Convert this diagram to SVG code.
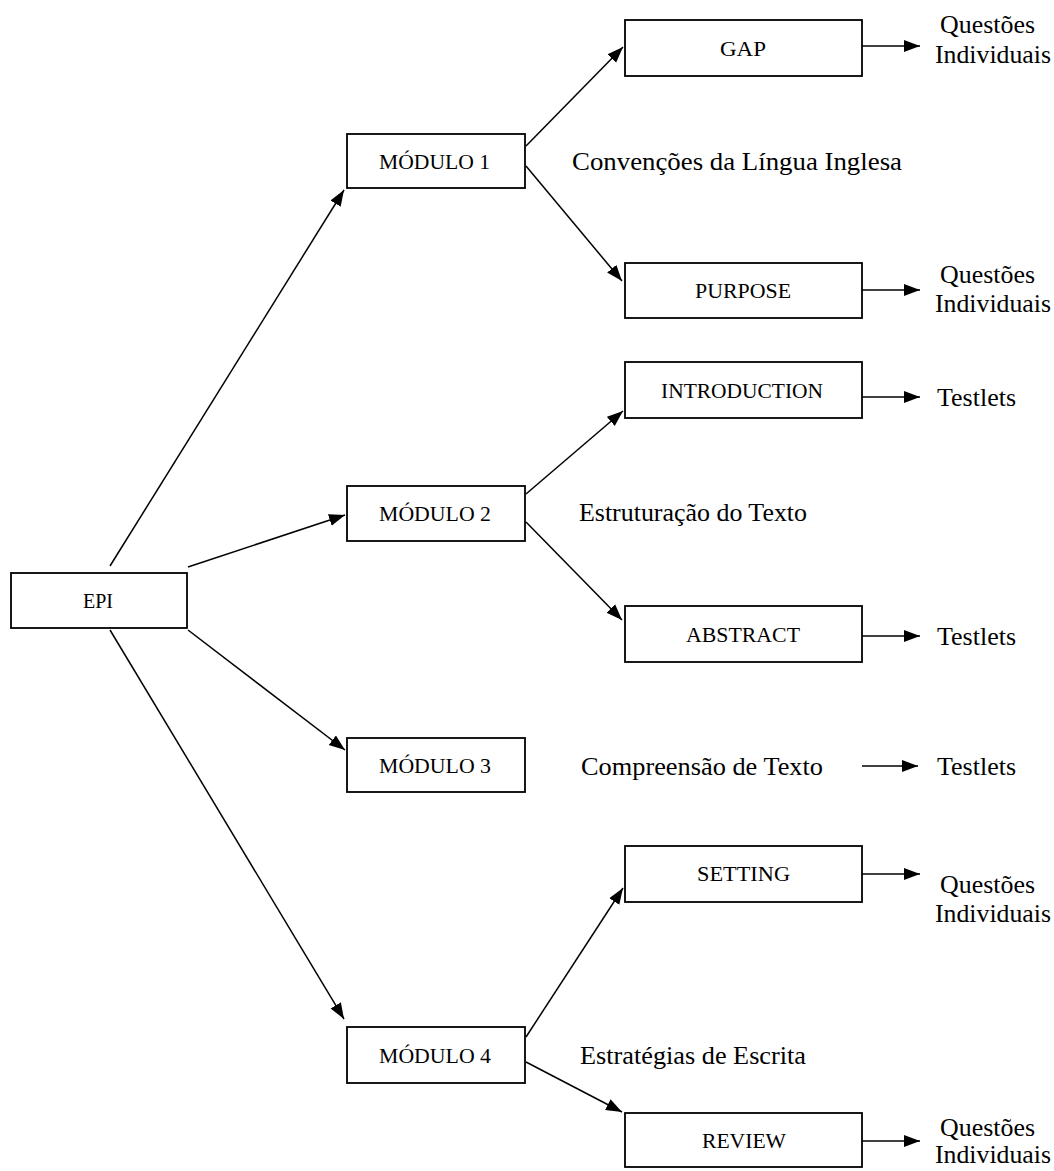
<svg xmlns="http://www.w3.org/2000/svg" width="1054" height="1171" viewBox="0 0 1054 1171">
<defs>
<marker id="ah" markerUnits="userSpaceOnUse" markerWidth="18" markerHeight="14" refX="16" refY="7" orient="auto">
<path d="M0,1 L16,7 L0,13 z" fill="#000"/>
</marker>
</defs>
<style>
.box{fill:#fff;stroke:#000;stroke-width:1.8}
.lbl{font-family:"Liberation Serif","Times New Roman",serif;font-size:22px;fill:#000}
.txt{font-family:"Liberation Serif","Times New Roman",serif;font-size:26px;fill:#000}
.con{stroke:#000;stroke-width:1.5;fill:none;marker-end:url(#ah)}
</style>
<rect width="1054" height="1171" fill="#fff"/>

<g id="connectors">
<line class="con" x1="110" y1="566" x2="344" y2="190"/>
<line class="con" x1="188" y1="567" x2="345" y2="515"/>
<line class="con" x1="188" y1="630" x2="345" y2="750"/>
<line class="con" x1="110" y1="630" x2="344" y2="1019"/>
<line class="con" x1="526" y1="146" x2="623" y2="47"/>
<line class="con" x1="526" y1="166" x2="622" y2="281"/>
<line class="con" x1="526" y1="494" x2="623" y2="411"/>
<line class="con" x1="526" y1="522" x2="622" y2="620"/>
<line class="con" x1="526" y1="1037" x2="623" y2="888"/>
<line class="con" x1="526" y1="1062" x2="622" y2="1112"/>
<line class="con" x1="862" y1="46" x2="920" y2="46"/>
<line class="con" x1="862" y1="290" x2="920" y2="290"/>
<line class="con" x1="862" y1="397" x2="920" y2="397"/>
<line class="con" x1="862" y1="636" x2="920" y2="636"/>
<line class="con" x1="862" y1="766" x2="918" y2="766"/>
<line class="con" x1="862" y1="874" x2="920" y2="874"/>
<line class="con" x1="862" y1="1141" x2="920" y2="1141"/>
</g>

<g id="epi"><rect class="box" x="11" y="573" width="176" height="55"/><text class="lbl" x="83" y="608" textLength="30" lengthAdjust="spacingAndGlyphs">EPI</text></g>
<g id="modulo1"><rect class="box" x="347" y="134" width="178" height="54"/><text class="lbl" x="379" y="169" textLength="111" lengthAdjust="spacingAndGlyphs">MÓDULO 1</text></g>
<g id="modulo2"><rect class="box" x="347" y="486" width="178" height="55"/><text class="lbl" x="379" y="521" textLength="112" lengthAdjust="spacingAndGlyphs">MÓDULO 2</text></g>
<g id="modulo3"><rect class="box" x="347" y="738" width="178" height="54"/><text class="lbl" x="379" y="773" textLength="112" lengthAdjust="spacingAndGlyphs">MÓDULO 3</text></g>
<g id="modulo4"><rect class="box" x="347" y="1027" width="178" height="56"/><text class="lbl" x="379" y="1063" textLength="112" lengthAdjust="spacingAndGlyphs">MÓDULO 4</text></g>
<g id="gap"><rect class="box" x="625" y="20" width="237" height="56"/><text class="lbl" x="720" y="56" textLength="46" lengthAdjust="spacingAndGlyphs">GAP</text></g>
<g id="purpose"><rect class="box" x="625" y="263" width="237" height="55"/><text class="lbl" x="695" y="298" textLength="96" lengthAdjust="spacingAndGlyphs">PURPOSE</text></g>
<g id="introduction"><rect class="box" x="625" y="362" width="237" height="56"/><text class="lbl" x="661" y="398" textLength="162" lengthAdjust="spacingAndGlyphs">INTRODUCTION</text></g>
<g id="abstract"><rect class="box" x="625" y="606" width="237" height="56"/><text class="lbl" x="686" y="642" textLength="114" lengthAdjust="spacingAndGlyphs">ABSTRACT</text></g>
<g id="setting"><rect class="box" x="625" y="846" width="237" height="56"/><text class="lbl" x="697" y="881" textLength="93" lengthAdjust="spacingAndGlyphs">SETTING</text></g>
<g id="review"><rect class="box" x="625" y="1113" width="237" height="54"/><text class="lbl" x="702" y="1148" textLength="84" lengthAdjust="spacingAndGlyphs">REVIEW</text></g>

<g id="labels">
<text class="txt" x="940" y="33" textLength="95" lengthAdjust="spacingAndGlyphs">Questões</text>
<text class="txt" x="935" y="63" textLength="116" lengthAdjust="spacingAndGlyphs">Individuais</text>
<text class="txt" x="572" y="170" textLength="330" lengthAdjust="spacingAndGlyphs">Convenções da Língua Inglesa</text>
<text class="txt" x="940" y="283" textLength="95" lengthAdjust="spacingAndGlyphs">Questões</text>
<text class="txt" x="935" y="312" textLength="116" lengthAdjust="spacingAndGlyphs">Individuais</text>
<text class="txt" x="937" y="406" textLength="79" lengthAdjust="spacingAndGlyphs">Testlets</text>
<text class="txt" x="579" y="521" textLength="228" lengthAdjust="spacingAndGlyphs">Estruturação do Texto</text>
<text class="txt" x="937" y="645" textLength="79" lengthAdjust="spacingAndGlyphs">Testlets</text>
<text class="txt" x="581" y="775" textLength="242" lengthAdjust="spacingAndGlyphs">Compreensão de Texto</text>
<text class="txt" x="937" y="775" textLength="79" lengthAdjust="spacingAndGlyphs">Testlets</text>
<text class="txt" x="940" y="893" textLength="95" lengthAdjust="spacingAndGlyphs">Questões</text>
<text class="txt" x="935" y="922" textLength="116" lengthAdjust="spacingAndGlyphs">Individuais</text>
<text class="txt" x="580" y="1064" textLength="226" lengthAdjust="spacingAndGlyphs">Estratégias de Escrita</text>
<text class="txt" x="940" y="1136" textLength="95" lengthAdjust="spacingAndGlyphs">Questões</text>
<text class="txt" x="935" y="1163" textLength="116" lengthAdjust="spacingAndGlyphs">Individuais</text>
</g>
</svg>
